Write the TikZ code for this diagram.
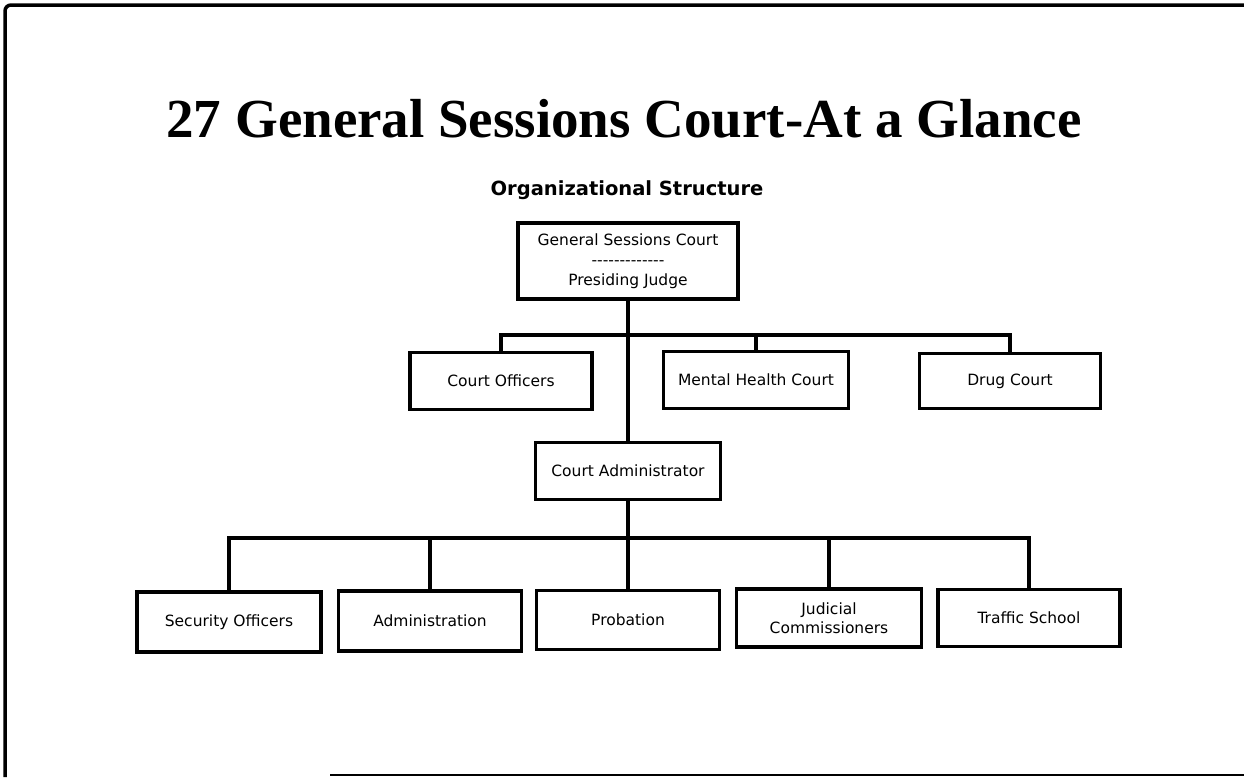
\documentclass[tikz,border=0pt]{standalone}
\usepackage{fontspec}
\setmainfont{Liberation Serif}
\newfontfamily\boxfont{DejaVu Sans}
\tikzset{
  orgbox/.style={draw=black, line width=3.6pt, fill=white, inner sep=0pt, align=center,
    font=\boxfont\fontsize{15.5}{20}\selectfont},
  conn/.style={draw=black, line width=3.2pt},
}
\begin{document}
\begin{tikzpicture}[x=1pt,y=-1pt]
\useasboundingbox (0,0) rectangle (1244,777);
% page frame
\draw[line width=3.5pt, rounded corners=6pt] (1244,5) -- (5,5) -- (5,777);
\draw[line width=2.5pt] (330,775) -- (1244,775);
% title
\node[anchor=base, inner sep=0pt, font=\bfseries\fontsize{55}{60}\selectfont] (title) at (624,137) {27 General Sessions Court-At a Glance};
\node[anchor=base, inner sep=0pt, font=\boxfont\bfseries\fontsize{19.5}{22}\selectfont] (sub) at (627,195) {Organizational Structure};
% boxes
\node[orgbox, minimum width=220pt, minimum height=76pt] (gsc) at (628,261) {General Sessions Court\\-------------\\Presiding Judge};
\node[orgbox, minimum width=182pt, minimum height=57pt] (co) at (501,381) {Court Officers};
\node[orgbox, minimum width=185pt, minimum height=57pt] (mhc) at (756,380) {Mental Health Court};
\node[orgbox, minimum width=181pt, minimum height=55pt] (dc) at (1010,381) {Drug Court};
\node[orgbox, minimum width=185pt, minimum height=57pt] (ca) at (628,471) {Court Administrator};
\node[orgbox, minimum width=184pt, minimum height=60pt] (so) at (229,622) {Security Officers};
\node[orgbox, minimum width=183pt, minimum height=60pt] (adm) at (430,621) {Administration};
\node[orgbox, minimum width=183pt, minimum height=59pt] (prob) at (628,620) {Probation};
\node[orgbox, minimum width=185pt, minimum height=58pt] (jc) at (829,618) {Judicial\\[-1pt]Commissioners};
\node[orgbox, minimum width=182pt, minimum height=57pt] (ts) at (1029,618) {Traffic School};
% connector coordinates
\coordinate (h1) at (628,335);
\coordinate (h2) at (628,538);
% connectors
\draw[conn] (gsc.south) -- (ca.north);
\draw[conn] (co.north) |- (h1) -| (dc.north);
\draw[conn] (mhc.north) -- (mhc.north |- h1);
\draw[conn] (ca.south) -- (prob.north);
\draw[conn] (so.north) |- (h2) -| (ts.north);
\draw[conn] (adm.north) -- (adm.north |- h2);
\draw[conn] (jc.north) -- (jc.north |- h2);
\end{tikzpicture}
\end{document}
